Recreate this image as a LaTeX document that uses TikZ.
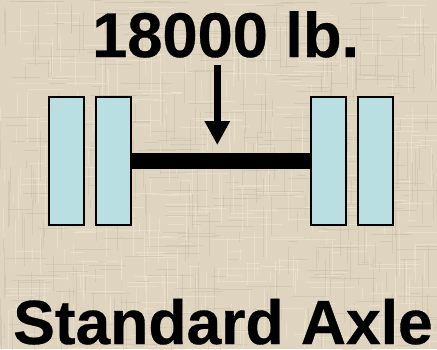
\documentclass[tikz,border=0pt]{standalone}
\usepackage{fontspec}
\setmainfont{Liberation Sans}
\newfontfamily\heavyface[FakeBold=0.5]{Liberation Sans Bold}
\usetikzlibrary{arrows.meta}
\definecolor{burlap}{HTML}{DED4BF}
\definecolor{burlaplight}{HTML}{EFE8D8}
\definecolor{burlapdark}{HTML}{BDB29B}
\definecolor{tyre}{HTML}{BADFE3}
\tikzset{
  wheel/.style={draw=black,line width=1.3pt,fill=tyre,minimum width=35pt,minimum height=128pt,inner sep=0pt,outer sep=0pt,anchor=north west},
  axle/.style={line width=15.5pt,black},
  load/.style={line width=7.6pt,black,-{Triangle[length=24pt,width=24pt]}},
  caption/.style={text=black,inner sep=0pt,anchor=base west}
}
\begin{document}
\begin{tikzpicture}[x=1pt,y=-1pt]
\useasboundingbox (0,0) rectangle (437,349);
\fill[burlap] (0,0) rectangle (437,349);
\pgfmathsetseed{7}
\begin{scope}
\clip (0,0) rectangle (437,349);
\foreach \i in {1,...,260}{
  \pgfmathsetmacro{\px}{random(0,437)}
  \pgfmathsetmacro{\pa}{random(0,330)}
  \pgfmathsetmacro{\pl}{random(8,50)}
  \pgfmathsetmacro{\py}{random(0,349)}
  \pgfmathsetmacro{\pb}{random(0,420)}
  \pgfmathsetmacro{\pm}{random(8,50)}
  \draw[burlaplight,line width=1pt,opacity=.5] (\px,\pa) -- ++(0,\pl);
  \draw[burlapdark,line width=0.9pt,opacity=.3] (\pb,\py) -- ++(\pm,0);
  \pgfmathsetmacro{\qx}{random(0,437)}
  \pgfmathsetmacro{\qa}{random(0,330)}
  \draw[burlapdark,line width=0.9pt,opacity=.3] (\qx,\qa) -- ++(0,\pm);
  \pgfmathsetmacro{\rx}{random(0,420)}
  \pgfmathsetmacro{\ry}{random(0,349)}
  \draw[burlaplight,line width=1pt,opacity=.5] (\rx,\ry) -- ++(\pl,0);
}
\end{scope}
\node[wheel] (w1) at (49,97) {};
\node[wheel] (w2) at (96,97) {};
\node[wheel] (w3) at (311,97) {};
\node[wheel] (w4) at (358,97) {};
\draw[axle] (w2.east) -- (w3.west);
\node[caption,font=\heavyface\fontsize{63.2}{63.2}\selectfont] (load) at (92,57) {18000 lb.};
\node[caption,font=\heavyface\fontsize{62.4}{62.4}\selectfont] (name) at (13,344) {Standard Axle};
\coordinate (top) at (217.3,64.7);
\coordinate (tip) at (217.3,145);
\draw[load] (top) -- (tip);
\end{tikzpicture}
\end{document}
